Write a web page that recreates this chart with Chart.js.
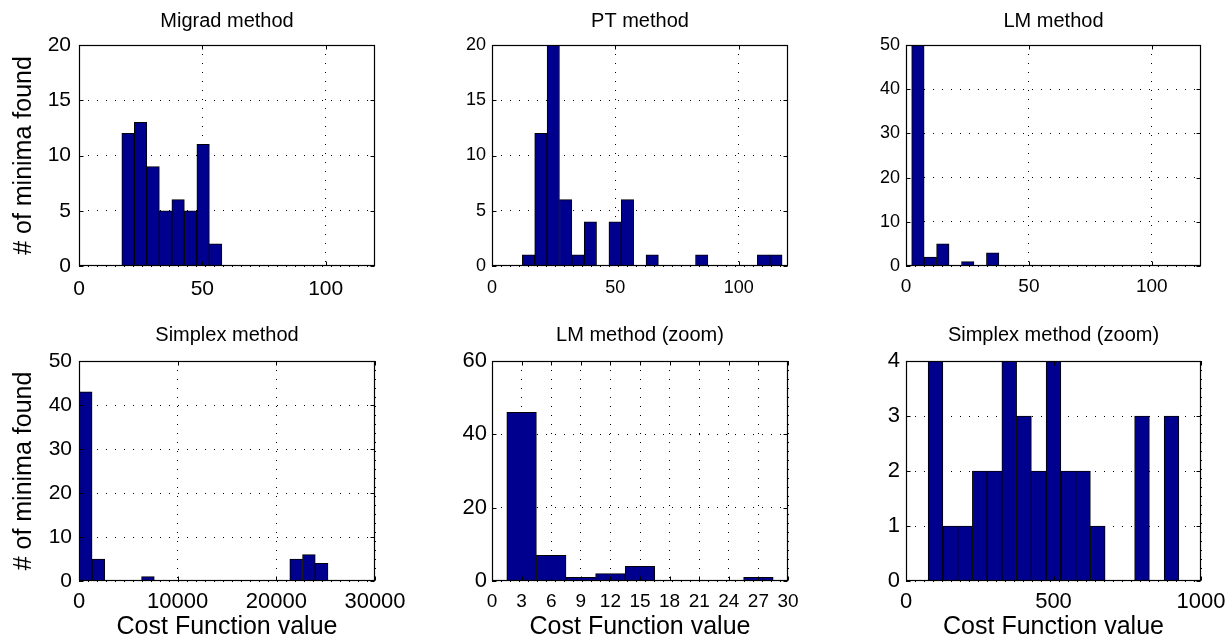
<!DOCTYPE html>
<html>
<head>
<meta charset="utf-8">
<script src="https://cdn.jsdelivr.net/npm/chart.js@4.4.1/dist/chart.umd.min.js"></script>
<style>
  html, body { margin: 0; padding: 0; background: #fff; }
  #fig { position: relative; width: 1231px; height: 639px; overflow: hidden; }
  #fig canvas { position: absolute; }
</style>
</head>
<body>
<div id="fig"></div>
<script>
// histogram bin centres and counts
const migradBins = [19.9, 24.97, 30.04, 35.11, 40.18, 45.25, 50.32, 55.39];
const migradCounts = [12, 13, 9, 5, 6, 5, 11, 2];

const ptBins = [14.81, 19.82, 24.84, 29.85, 34.87, 39.88, 44.9, 49.91, 54.92, 59.94, 64.95,
                69.97, 74.98, 79.99, 85.01, 90.02, 95.04, 100.05, 105.07, 110.08, 115.1];
const ptCounts = [1, 12, 20, 6, 1, 4, 0, 4, 6, 0, 1, 0, 0, 0, 1, 0, 0, 0, 0, 1, 1];

const lmBins = [4.84, 9.91, 14.98, 20.05, 25.12, 30.19, 35.26];
const lmCounts = [50, 2, 5, 0, 1, 0, 3];

const simplexBins = [680, 1970, 6985, 22010, 23300, 24590];
const simplexCounts = [43, 5, 1, 5, 6, 4];

const lmZoomBins = [3, 6, 9, 12, 15, 18, 21, 24, 27];
const lmZoomCounts = [46, 7, 1, 2, 4, 0, 0, 0, 1];

const simplexZoomBins = [100, 150, 200, 250, 300, 350, 400, 450, 500, 550, 600, 650, 700, 750, 800, 850, 900];
const simplexZoomCounts = [4, 1, 1, 2, 2, 4, 3, 2, 4, 2, 2, 1, 0, 0, 3, 0, 3];

// tick labels
const xTicksSmall = [0, 50, 100];
const xTicksSimplex = [0, 10000, 20000, 30000];
const xTicksLmZoom = [0, 3, 6, 9, 12, 15, 18, 21, 24, 27, 30];
const xTicksSimplexZoom = [0, 500, 1000];
const yTicks20 = [0, 5, 10, 15, 20];
const yTicks50 = [0, 10, 20, 30, 40, 50];
const yTicks60 = [0, 20, 40, 60];
const yTicks4 = [0, 1, 2, 3, 4];

const FONT = "'Liberation Sans', Arial, Helvetica, sans-serif";
const BAR_FILL = 'rgb(0,0,143)';

// draws the box, inner tick marks and the panel title
const framePlugin = {
    id: 'frame',
    afterDatasetsDraw(chart, args, opts) {
        const {ctx, chartArea: a} = chart;
        const xs = chart.scales.x, ys = chart.scales.y;
        const l = Math.round(a.left) + 0.5, r = Math.round(a.right) - 0.5;
        const t = Math.round(a.top) + 0.5, b = Math.round(a.bottom) - 0.5;
        ctx.save();
        ctx.strokeStyle = '#000';
        ctx.lineWidth = 1;
        ctx.beginPath();
        xs.ticks.forEach(tk => {
            const px = Math.round(xs.getPixelForValue(tk.value)) + 0.5;
            ctx.moveTo(px, b); ctx.lineTo(px, b - 4);
            ctx.moveTo(px, t); ctx.lineTo(px, t + 4);
        });
        ys.ticks.forEach(tk => {
            const py = Math.round(ys.getPixelForValue(tk.value)) + 0.5;
            ctx.moveTo(l, py); ctx.lineTo(l + 4, py);
            ctx.moveTo(r, py); ctx.lineTo(r - 4, py);
        });
        ctx.stroke();
        ctx.lineWidth = 1.2;
        ctx.strokeRect(l, t, r - l, b - t);
        ctx.fillStyle = '#000';
        ctx.font = opts.size + 'px ' + FONT;
        ctx.textAlign = 'center';
        ctx.textBaseline = 'middle';
        ctx.fillText(opts.text, (a.left + a.right) / 2, a.top - opts.offset);
        ctx.restore();
    }
};

function makePanel(p) {
    const fig = document.getElementById('fig');
    const cv = document.createElement('canvas');
    cv.width = p.cell.w;
    cv.height = p.cell.h;
    cv.style.left = p.cell.x + 'px';
    cv.style.top = p.cell.y + 'px';
    cv.style.width = p.cell.w + 'px';
    cv.style.height = p.cell.h + 'px';
    fig.appendChild(cv);

    const padLeft = p.plot.l - p.cell.x - p.yW;
    const padRight = p.cell.x + p.cell.w - p.plot.r;
    const padTop = p.plot.t - p.cell.y;
    const xH = p.cell.y + p.cell.h - p.plot.b;

    new Chart(cv.getContext('2d'), {
        type: 'bar',
        data: {
            datasets: [{
                data: p.bins.map((c, i) => ({x: c, y: p.counts[i]})),
                backgroundColor: BAR_FILL,
                borderColor: '#000',
                borderWidth: 1,
                borderSkipped: 'start',
                barPercentage: 1,
                categoryPercentage: 1
            }]
        },
        options: {
            responsive: false,
            animation: false,
            devicePixelRatio: 1,
            layout: { padding: { left: padLeft, right: padRight, top: padTop, bottom: 0 } },
            plugins: {
                legend: { display: false },
                tooltip: { enabled: false },
                frame: { text: p.title, offset: p.titleOffset, size: 20 }
            },
            scales: {
                x: {
                    type: 'linear',
                    min: p.xMin, max: p.xMax,
                    bounds: 'data',
                    offset: false,
                    afterBuildTicks: s => { s.ticks = p.xTicks.map(v => ({value: v})); },
                    afterFit: s => { s.height = xH; },
                    grid: { offset: false, color: '#000', lineWidth: 1, drawTicks: true,
                            tickLength: p.xTickGap, tickColor: 'rgba(0,0,0,0)' },
                    border: { display: false, dash: [1, 8] },
                    ticks: { padding: 0, autoSkip: false, maxRotation: 0, minRotation: 0,
                             color: '#000', font: { family: FONT, size: p.xFont },
                             callback: v => String(v) },
                    title: {
                        display: !!p.xLabel,
                        text: p.xLabel || '',
                        color: '#000',
                        font: { family: FONT, size: 25 },
                        padding: { top: 0, bottom: 0 }
                    }
                },
                y: {
                    type: 'linear',
                    min: 0, max: p.yMax,
                    bounds: 'data',
                    afterBuildTicks: s => { s.ticks = p.yTicks.map(v => ({value: v})); },
                    afterFit: s => { s.width = p.yW; },
                    grid: { color: '#000', lineWidth: 1, drawTicks: true,
                            tickLength: p.yTickGap, tickColor: 'rgba(0,0,0,0)' },
                    border: { display: false, dash: [1, 8] },
                    ticks: { padding: 0, autoSkip: false, color: '#000',
                             font: { family: FONT, size: p.yFont },
                             callback: v => String(v) },
                    title: {
                        display: !!p.yLabel,
                        text: p.yLabel || '',
                        color: '#000',
                        font: { family: FONT, size: 25 },
                        padding: { top: 9, bottom: 0 }
                    }
                }
            }
        },
        plugins: [framePlugin]
    });
}

const yLabel = '# of minima found';
const xLabel = 'Cost Function value';

makePanel({ title: 'Migrad method', titleOffset: 24, bins: migradBins, counts: migradCounts,
    cell: {x: 0, y: 0, w: 410, h: 300}, plot: {l: 79, t: 45, r: 375, b: 266}, yW: 79,
    xMin: 0, xMax: 120, xTicks: xTicksSmall, yMax: 20, yTicks: yTicks20,
    xFont: 21, yFont: 21, xTickGap: 11, yTickGap: 8, yLabel: yLabel });

makePanel({ title: 'PT method', titleOffset: 24, bins: ptBins, counts: ptCounts,
    cell: {x: 410, y: 0, w: 410, h: 300}, plot: {l: 492, t: 45, r: 788, b: 266}, yW: 50,
    xMin: 0, xMax: 120, xTicks: xTicksSmall, yMax: 20, yTicks: yTicks20,
    xFont: 18, yFont: 18, xTickGap: 11, yTickGap: 6 });

makePanel({ title: 'LM method', titleOffset: 24, bins: lmBins, counts: lmCounts,
    cell: {x: 820, y: 0, w: 411, h: 300}, plot: {l: 906, t: 45, r: 1201, b: 266}, yW: 50,
    xMin: 0, xMax: 120, xTicks: xTicksSmall, yMax: 50, yTicks: yTicks50,
    xFont: 19, yFont: 18, xTickGap: 9, yTickGap: 6 });

makePanel({ title: 'Simplex method', titleOffset: 26, bins: simplexBins, counts: simplexCounts,
    cell: {x: 0, y: 300, w: 410, h: 342}, plot: {l: 79, t: 361, r: 375, b: 581}, yW: 79,
    xMin: 0, xMax: 30000, xTicks: xTicksSimplex, yMax: 50, yTicks: yTicks50,
    xFont: 22, yFont: 21, xTickGap: 8, yTickGap: 7, yLabel: yLabel, xLabel: xLabel });

makePanel({ title: 'LM method (zoom)', titleOffset: 26, bins: lmZoomBins, counts: lmZoomCounts,
    cell: {x: 410, y: 300, w: 410, h: 342}, plot: {l: 492, t: 361, r: 788, b: 581}, yW: 50,
    xMin: 0, xMax: 30, xTicks: xTicksLmZoom, yMax: 60, yTicks: yTicks60,
    xFont: 19, yFont: 22, xTickGap: 9, yTickGap: 5, xLabel: xLabel });

makePanel({ title: 'Simplex method (zoom)', titleOffset: 26, bins: simplexZoomBins, counts: simplexZoomCounts,
    cell: {x: 820, y: 300, w: 411, h: 342}, plot: {l: 906, t: 361, r: 1201, b: 581}, yW: 50,
    xMin: 0, xMax: 1000, xTicks: xTicksSimplexZoom, yMax: 4, yTicks: yTicks4,
    xFont: 22, yFont: 22, xTickGap: 8, yTickGap: 6, xLabel: xLabel });
</script>
</body>
</html>
